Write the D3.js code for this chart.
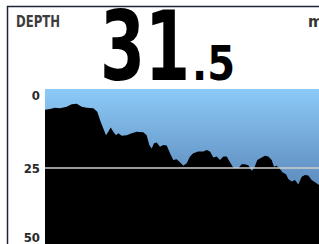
<!DOCTYPE html>
<html>
<head>
<meta charset="utf-8">
<script src="https://cdn.jsdelivr.net/npm/d3@7"></script>
<style>
  html, body { margin: 0; padding: 0; background: #fff; }
  svg { display: block; }
</style>
</head>
<body>
<svg id="chart" width="319" height="244"></svg>
<script>
// Depth history panel
/////////////////////////////////

// current reading
var depthWhole = '31',
    depthFrac = '.5',
    unit = 'm',
    title = 'DEPTH';

// y ticks (metres)
var tickValues = [0, 25, 50];

// history track: sample position and depth below surface (m)
var track = [0, 5, 10, 15, 21.7, 26.7, 31.7, 36.7, 41.7, 48.3,
    52.3, 55, 58, 61, 63.3, 65.7, 68.3, 71, 73.3, 76.7,
    81.7, 86.7, 91.7, 98.3, 101.7, 104.3, 106.7, 109, 111.7, 115,
    118.3, 121.7, 125, 128.3, 131.7, 135, 138.3, 141.7, 145, 148.3,
    153.3, 158.3, 161.7, 165, 168.3, 171.7, 175, 178.3, 181.7, 185,
    188.3, 193.3, 196.7, 200, 203.3, 206.7, 209.3, 212.3, 216.7, 220,
    223.3, 226.7, 229, 231.7, 234.3, 237.7, 241, 243.3, 246.7, 250,
    253.3, 256.7, 260, 263.3, 266.7, 270, 274];
var depth = [6.6, 6.3, 5.9, 6.1, 5.6, 4.8, 4.7, 5.6, 5.9, 6.1,
    7.2, 9.8, 12.3, 14.6, 13.5, 12.2, 13.5, 14.6, 14.0, 14.8,
    14.6, 14.0, 13.5, 13.7, 14.6, 17.7, 18.8, 17.2, 16.9, 18.3,
    17.7, 17.9, 20.3, 22.5, 22.2, 23.2, 24.3, 23.5, 21.4, 20.3,
    19.8, 19.8, 19.3, 19.8, 21.7, 21.4, 22.5, 21.4, 21.4, 23.2,
    24.9, 25.1, 23.8, 23.8, 24.1, 25.9, 24.9, 22.5, 21.7, 21.1,
    21.4, 22.5, 24.6, 24.3, 25.1, 26.4, 27.0, 28.5, 29.3, 28.8,
    30.2, 27.8, 27.2, 27.4, 28.8, 29.5, 30.4];

var plot = { left: 45, right: 319, top: 89, bottom: 247 };

var svg = d3.select('#chart');
var fontCond = '"DejaVu Sans Condensed", "DejaVu Sans", sans-serif';

var x = d3.scaleLinear().domain([0, d3.max(track)]).range([plot.left, plot.right]);
var y = d3.scaleLinear().domain([0, 50]).range([plot.top, plot.bottom]);

// background gradient (water)
var defs = svg.append('defs');
var grad = defs.append('linearGradient')
    .attr('id', 'water').attr('x1', 0).attr('y1', 0).attr('x2', 0).attr('y2', 1);
grad.append('stop').attr('offset', '0%').attr('stop-color', '#8ccaf8');
grad.append('stop').attr('offset', '50%').attr('stop-color', '#6697c8');
grad.append('stop').attr('offset', '100%').attr('stop-color', '#4a78a8');

svg.append('rect')
    .attr('x', plot.left).attr('y', plot.top)
    .attr('width', plot.right - plot.left).attr('height', 244 - plot.top)
    .attr('fill', 'url(#water)');

// bottom profile
var points = d3.zip(track, depth);

var area = d3.area()
    .x(function (d) { return x(d[0]); })
    .y0(244)
    .y1(function (d) { return y(d[1]); });

svg.append('path')
    .datum(points)
    .attr('d', area)
    .attr('fill', '#000');

// 25 m reference line
svg.append('line')
    .attr('x1', plot.left).attr('x2', plot.right)
    .attr('y1', y(25)).attr('y2', y(25))
    .attr('stroke', '#cfcfcf').attr('stroke-width', 1.5);

// tick labels (clamped inside the panel)
svg.selectAll('.tick-label')
    .data(tickValues)
    .enter().append('text')
    .attr('class', 'tick-label')
    .attr('x', 40)
    .attr('y', function (d) { return Math.min(Math.max(y(d), 95), 237); })
    .attr('dy', '0.36em')
    .attr('text-anchor', 'end')
    .attr('font-family', fontCond)
    .attr('font-weight', 'bold')
    .attr('font-size', 13)
    .attr('fill', '#2a2a2a')
    .text(function (d) { return d; });

// panel frame
svg.append('path')
    .attr('d', 'M7.5,244V6.5H319')
    .attr('fill', 'none')
    .attr('stroke', '#1c2438')
    .attr('stroke-width', 1.5);

// header texts
svg.append('text')
    .attr('x', 16).attr('y', 27)
    .attr('font-family', fontCond).attr('font-weight', 'bold')
    .attr('font-size', 16).attr('fill', '#3d3d3d')
    .attr('textLength', 44).attr('lengthAdjust', 'spacingAndGlyphs')
    .text(title);

svg.append('text')
    .attr('x', 308).attr('y', 27)
    .attr('font-family', fontCond).attr('font-weight', 'bold')
    .attr('font-size', 16).attr('fill', '#333')
    .text(unit);

svg.append('text')
    .attr('x', 100).attr('y', 80)
    .attr('font-family', fontCond).attr('font-weight', 'bold')
    .attr('font-size', 96).attr('fill', '#000')
    .attr('textLength', 90).attr('lengthAdjust', 'spacingAndGlyphs')
    .text(depthWhole);

svg.append('text')
    .attr('x', 192).attr('y', 80)
    .attr('font-family', fontCond).attr('font-weight', 'bold')
    .attr('font-size', 48).attr('fill', '#000')
    .attr('textLength', 43).attr('lengthAdjust', 'spacingAndGlyphs')
    .text(depthFrac);
</script>
</body>
</html>
